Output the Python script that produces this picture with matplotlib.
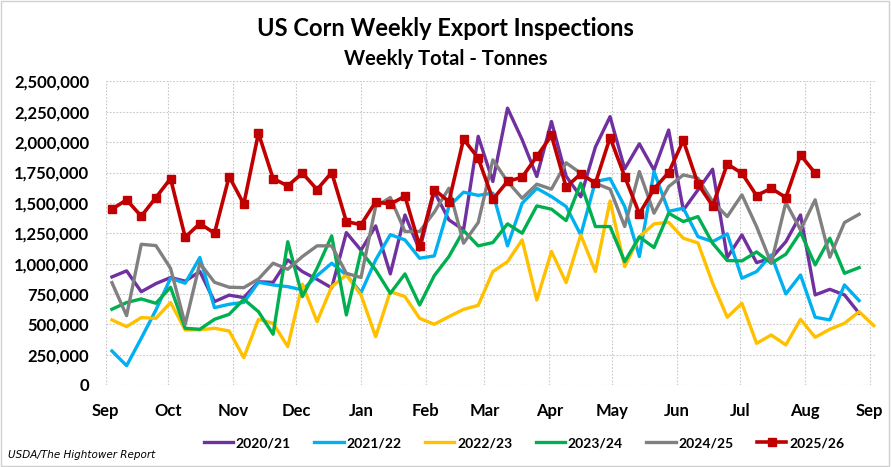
import datetime as dt
import matplotlib
matplotlib.use("Agg")
import matplotlib.pyplot as plt
import matplotlib.dates as mdates
from matplotlib.ticker import FuncFormatter, MultipleLocator
from matplotlib.patches import Rectangle

# week-ending dates (Thursdays) starting Sep 4
start = dt.date(2025, 9, 4)
weeks = [start + dt.timedelta(days=7 * i) for i in range(53)]

seasons = ["2020/21", "2021/22", "2022/23", "2023/24", "2024/25", "2025/26"]
colors = ["#7030A0", "#00B0F0", "#FFC000", "#00B050", "#808080", "#C00000"]

# tonnes (thousands)
y2020 = [890, 940, 768, 835, 885, 855, 935, 687, 740, 720, 850, 845, 1030, 934, 870, 800,
         1255, 1110, 1310, 915, 1400, 1110, 1593, 1360, 1278, 2048, 1676, 2280, 2020, 1717,
         2170, 1720, 1550, 1960, 2210, 1780, 1986, 1770, 2100, 1440, 1607, 1777, 1050, 1236,
         1008, 1044, 1180, 1400, 742, 788, 742, 591]
y2021 = [280, 159, 385, 618, 879, 838, 1050, 637, 665, 680, 846, 824, 810, 783, 900, 1003,
         906, 760, 1030, 1238, 1195, 1044, 1063, 1470, 1588, 1562, 1580, 1146, 1497, 1620,
         1552, 1470, 1236, 1676, 1700, 1470, 1058, 1758, 1430, 1456, 1222, 1181, 1245, 879,
         934, 1071, 750, 906, 558, 536, 824, 695]
y2022 = [536, 481, 555, 549, 679, 453, 455, 467, 445, 225, 541, 508, 316, 830, 522, 810,
         906, 742, 398, 769, 728, 549, 500, 563, 623, 656, 934, 1016, 1195, 700, 1100, 843,
         1236, 934, 1516, 975, 1220, 1327, 1340, 1209, 1170, 838, 558, 673, 343, 412, 330,
         541, 393, 459, 508, 604, 489]
y2023 = [624, 679, 709, 673, 805, 467, 459, 541, 582, 706, 604, 418, 1180, 728, 961, 1228,
         577, 1100, 948, 755, 915, 659, 900, 1058, 1272, 1146, 1173, 1327, 1250, 1475, 1448,
         1354, 1662, 1305, 1305, 1016, 1220, 1132, 1415, 1346, 1387, 1167, 1025, 1022, 1096,
         1003, 1077, 1258, 989, 1209, 920, 967]
y2024 = [843, 571, 1159, 1148, 961, 500, 1003, 846, 805, 802, 873, 1003, 953, 1058, 1146,
         1146, 920, 885, 1470, 1544, 1264, 1264, 1423, 1620, 1168, 1338, 1854, 1676, 1538,
         1654, 1613, 1830, 1744, 1662, 1613, 1305, 1758, 1415, 1634, 1730, 1703, 1511, 1387,
         1566, 1305, 1003, 1503, 1277, 1525, 1052, 1338, 1406]
y2025 = [1448, 1525, 1390, 1544, 1700, 1217, 1330, 1250, 1717, 1490, 2074, 1700, 1640, 1745,
         1610, 1750, 1346, 1320, 1508, 1490, 1555, 1146, 1610, 1510, 2025, 1868, 1530, 1676,
         1712, 1882, 2055, 1630, 1739, 1662, 2038, 1717, 1410, 1615, 1750, 2014, 1656, 1475,
         1820, 1744, 1560, 1620, 1544, 1895, 1744]

series = [y2020, y2021, y2022, y2023, y2024, y2025]

plt.rcParams['font.family'] = ['Lato', 'DejaVu Sans']

fig = plt.figure(figsize=(8.91, 4.67), dpi=100)
ax = fig.add_axes([0.1186, 0.1756, 0.8644, 0.650])

for name, col, vals in zip(seasons, colors, series):
    x = weeks[:len(vals)]
    y = [v * 1000 for v in vals]
    if name == "2025/26":
        ax.plot(x, y, color=col, lw=2.6, marker="s", ms=6, label=name, zorder=5)
    else:
        ax.plot(x, y, color=col, lw=2.4, label=name, zorder=3)

ax.set_ylim(0, 2500000)
ax.yaxis.set_major_locator(MultipleLocator(250000))
ax.yaxis.set_major_formatter(FuncFormatter(lambda v, p: f"{int(v):,}"))
ax.set_xlim(dt.date(2025, 9, 1), dt.date(2026, 9, 4) + dt.timedelta(hours=5))
ax.xaxis.set_major_locator(mdates.MonthLocator())
ax.xaxis.set_major_formatter(mdates.DateFormatter("%b"))

ax.grid(True, color="#c8c8c8", linestyle=(0, (1.5, 1.5)), linewidth=0.8)
ax.set_axisbelow(True)
for s in ax.spines.values():
    s.set_visible(False)
ax.tick_params(length=0)
ax.tick_params(axis="x", pad=13, labelsize=12)
ax.tick_params(axis="y", pad=12, labelsize=12)
for lab in ax.get_xticklabels() + ax.get_yticklabels():
    lab.set_fontweight("bold")

fig.text(0.5, 0.94, "US Corn Weekly Export Inspections", ha="center", va="center",
         fontsize=17, fontweight="bold")
fig.text(0.5, 0.873, "Weekly Total - Tonnes", ha="center", va="center",
         fontsize=14.5, fontweight="bold")
fig.text(0.009, 0.026, "USDA/The Hightower Report", ha="left", va="center",
         fontsize=7.5, style="italic", family=["DejaVu Sans"])

leg = fig.legend(loc="center", bbox_to_anchor=(0.588, 0.051), ncol=6, frameon=False,
                 prop={"weight": "bold", "size": 10}, handlelength=2.1,
                 handletextpad=0.2, columnspacing=1.7)

fig.patches.append(Rectangle((0.001, 0.002), 0.997, 0.995, transform=fig.transFigure,
                             fill=False, edgecolor="#d0d0d0", linewidth=1))

fig.savefig("out.png", dpi=100)
